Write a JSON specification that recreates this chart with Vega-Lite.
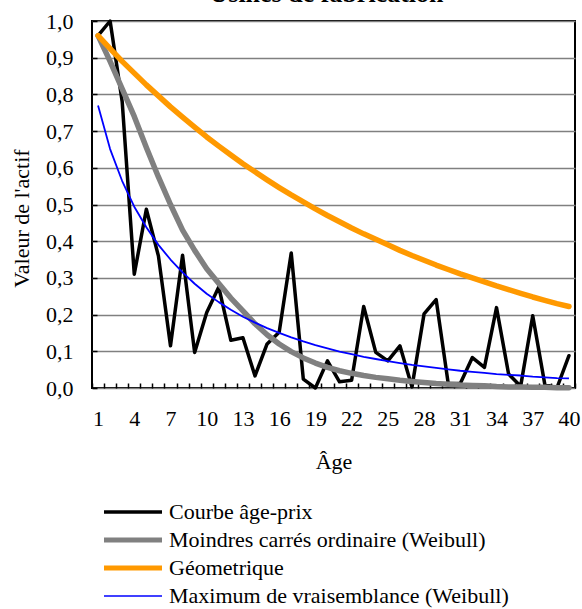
{
  "$schema": "https://vega.github.io/schema/vega-lite/v6.json",
  "width": 483,
  "height": 367,
  "autosize": {"type": "none"},
  "padding": {"left": 92, "top": 21, "right": 7, "bottom": 221},
  "background": "white",
  "config": {
    "font": "Liberation Serif",
    "view": {"stroke": "black", "strokeWidth": 2},
    "axis": {
      "labelFont": "Liberation Serif",
      "labelFontSize": 22,
      "labelColor": "black",
      "titleFont": "Liberation Serif",
      "titleFontSize": 22,
      "titleFontWeight": "normal",
      "titleColor": "black",
      "domain": false,
      "tickColor": "black",
      "tickWidth": 1.5
    },
    "legend": {"labelFont": "Liberation Serif"}
  },
  "title": {
    "text": "Usines de fabrication",
    "font": "Liberation Serif",
    "fontSize": 26,
    "fontWeight": "bold",
    "color": "black",
    "anchor": "middle",
    "frame": "group",
    "baseline": "alphabetic",
    "offset": -18,
    "dx": -7
  },
  "data": {
    "values": [
      {"age": 1, "courbe": 0.96, "mco": 0.96, "geo": 0.96, "mv": 0.77},
      {"age": 2, "courbe": 1.0, "mco": 0.89, "geo": 0.925, "mv": 0.651},
      {"age": 3, "courbe": 0.78, "mco": 0.815, "geo": 0.89, "mv": 0.564},
      {"age": 4, "courbe": 0.31, "mco": 0.74, "geo": 0.858, "mv": 0.494},
      {"age": 5, "courbe": 0.487, "mco": 0.655, "geo": 0.826, "mv": 0.438},
      {"age": 6, "courbe": 0.36, "mco": 0.575, "geo": 0.796, "mv": 0.39},
      {"age": 7, "courbe": 0.115, "mco": 0.5, "geo": 0.766, "mv": 0.35},
      {"age": 8, "courbe": 0.362, "mco": 0.43, "geo": 0.738, "mv": 0.315},
      {"age": 9, "courbe": 0.097, "mco": 0.375, "geo": 0.711, "mv": 0.284},
      {"age": 10, "courbe": 0.206, "mco": 0.325, "geo": 0.684, "mv": 0.257},
      {"age": 11, "courbe": 0.275, "mco": 0.285, "geo": 0.659, "mv": 0.234},
      {"age": 12, "courbe": 0.13, "mco": 0.245, "geo": 0.635, "mv": 0.213},
      {"age": 13, "courbe": 0.137, "mco": 0.21, "geo": 0.611, "mv": 0.194},
      {"age": 14, "courbe": 0.033, "mco": 0.175, "geo": 0.589, "mv": 0.178},
      {"age": 15, "courbe": 0.12, "mco": 0.145, "geo": 0.567, "mv": 0.163},
      {"age": 16, "courbe": 0.152, "mco": 0.12, "geo": 0.546, "mv": 0.15},
      {"age": 17, "courbe": 0.368, "mco": 0.099, "geo": 0.526, "mv": 0.138},
      {"age": 18, "courbe": 0.024, "mco": 0.082, "geo": 0.507, "mv": 0.127},
      {"age": 19, "courbe": 0.0, "mco": 0.068, "geo": 0.488, "mv": 0.117},
      {"age": 20, "courbe": 0.074, "mco": 0.056, "geo": 0.47, "mv": 0.108},
      {"age": 21, "courbe": 0.017, "mco": 0.047, "geo": 0.453, "mv": 0.099},
      {"age": 22, "courbe": 0.021, "mco": 0.04, "geo": 0.436, "mv": 0.092},
      {"age": 23, "courbe": 0.222, "mco": 0.034, "geo": 0.42, "mv": 0.085},
      {"age": 24, "courbe": 0.097, "mco": 0.029, "geo": 0.405, "mv": 0.079},
      {"age": 25, "courbe": 0.074, "mco": 0.025, "geo": 0.39, "mv": 0.073},
      {"age": 26, "courbe": 0.115, "mco": 0.021, "geo": 0.375, "mv": 0.068},
      {"age": 27, "courbe": 0.003, "mco": 0.018, "geo": 0.361, "mv": 0.063},
      {"age": 28, "courbe": 0.202, "mco": 0.015, "geo": 0.348, "mv": 0.059},
      {"age": 29, "courbe": 0.241, "mco": 0.012, "geo": 0.335, "mv": 0.055},
      {"age": 30, "courbe": 0.012, "mco": 0.01, "geo": 0.323, "mv": 0.051},
      {"age": 31, "courbe": 0.012, "mco": 0.008, "geo": 0.311, "mv": 0.047},
      {"age": 32, "courbe": 0.083, "mco": 0.007, "geo": 0.3, "mv": 0.044},
      {"age": 33, "courbe": 0.056, "mco": 0.006, "geo": 0.289, "mv": 0.041},
      {"age": 34, "courbe": 0.219, "mco": 0.004, "geo": 0.278, "mv": 0.038},
      {"age": 35, "courbe": 0.038, "mco": 0.003, "geo": 0.268, "mv": 0.036},
      {"age": 36, "courbe": 0.005, "mco": 0.003, "geo": 0.258, "mv": 0.034},
      {"age": 37, "courbe": 0.197, "mco": 0.002, "geo": 0.248, "mv": 0.031},
      {"age": 38, "courbe": 0.01, "mco": 0.002, "geo": 0.239, "mv": 0.029},
      {"age": 39, "courbe": 0.0, "mco": 0.001, "geo": 0.23, "mv": 0.027},
      {"age": 40, "courbe": 0.088, "mco": 0.001, "geo": 0.222, "mv": 0.026}
    ]
  },
  "transform": [
    {"fold": ["courbe", "mco", "geo", "mv"], "as": ["series", "value"]}
  ],
  "encoding": {
    "x": {
      "field": "age",
      "type": "quantitative",
      "scale": {"domain": [0.5, 40.5], "nice": false, "zero": false},
      "axis": {
        "title": "Âge",
        "values": [0.5, 1, 1.5, 2.5, 3.5, 4, 4.5, 5.5, 6.5, 7, 7.5, 8.5, 9.5, 10, 10.5, 11.5, 12.5, 13, 13.5, 14.5, 15.5, 16, 16.5, 17.5, 18.5, 19, 19.5, 20.5, 21.5, 22, 22.5, 23.5, 24.5, 25, 25.5, 26.5, 27.5, 28, 28.5, 29.5, 30.5, 31, 31.5, 32.5, 33.5, 34, 34.5, 35.5, 36.5, 37, 37.5, 38.5, 39.5, 40, 40.5],
        "labelExpr": "indexof([1,4,7,10,13,16,19,22,25,28,31,34,37,40], datum.value) >= 0 ? '' + datum.value : ''",
        "labelOverlap": false,
        "labelBound": false,
        "labelFlush": false,
        "grid": false,
        "tickSize": -5,
        "tickOpacity": {"condition": {"test": "datum.value % 1 === 0", "value": 0}, "value": 1},
        "labelPadding": 25,
        "titlePadding": 22
      }
    },
    "y": {
      "field": "value",
      "type": "quantitative",
      "scale": {"domain": [0, 1], "nice": false},
      "axis": {
        "title": "Valeur de l'actif",
        "values": [0, 0.1, 0.2, 0.3, 0.4, 0.5, 0.6, 0.7, 0.8, 0.9, 1.0],
        "labelExpr": "replace(format(datum.value, '.1f'), '.', ',')",
        "labelOverlap": false,
        "grid": true,
        "gridColor": "#808080",
        "gridWidth": 1.5,
        "tickSize": -5,
        "labelPadding": 24,
        "titleX": -59,
        "titleY": 197,
        "titleBaseline": "bottom",
        "titleAngle": -90
      }
    },
    "color": {
      "field": "series",
      "type": "nominal",
      "scale": {
        "domain": ["courbe", "mco", "geo", "mv"],
        "range": ["#000000", "#808080", "#FF9900", "#0000FF"]
      },
      "legend": {
        "title": null,
        "orient": "none",
        "legendX": 30,
        "legendY": 480,
        "direction": "vertical",
        "symbolType": "stroke",
        "symbolSize": 3364,
        "labelFont": "Liberation Serif",
        "labelFontSize": 22,
        "labelColor": "black",
        "labelOffset": 25,
        "rowPadding": 6,
        "padding": 0,
        "labelLimit": 500,
        "labelExpr": "datum.value === 'courbe' ? 'Courbe âge-prix' : datum.value === 'mco' ? 'Moindres carrés ordinaire (Weibull)' : datum.value === 'geo' ? 'Géometrique' : 'Maximum de vraisemblance (Weibull)'",
        "encode": {
          "symbols": {
            "update": {
              "strokeWidth": {"signal": "datum.value === 'mv' ? 1.5 : datum.value === 'courbe' ? 3.5 : 5"}
            }
          }
        }
      }
    }
  },
  "layer": [
    {
      "transform": [{"filter": "datum.series === 'courbe'"}],
      "mark": {"type": "line", "strokeWidth": 3.5, "strokeJoin": "round", "strokeCap": "round"}
    },
    {
      "transform": [{"filter": "datum.series === 'mco'"}],
      "mark": {"type": "line", "strokeWidth": 5.5, "strokeJoin": "round", "strokeCap": "round"}
    },
    {
      "transform": [{"filter": "datum.series === 'geo'"}],
      "mark": {"type": "line", "strokeWidth": 5.5, "strokeJoin": "round", "strokeCap": "round"}
    },
    {
      "transform": [{"filter": "datum.series === 'mv'"}],
      "mark": {"type": "line", "strokeWidth": 1.8, "strokeJoin": "round"}
    }
  ]
}
